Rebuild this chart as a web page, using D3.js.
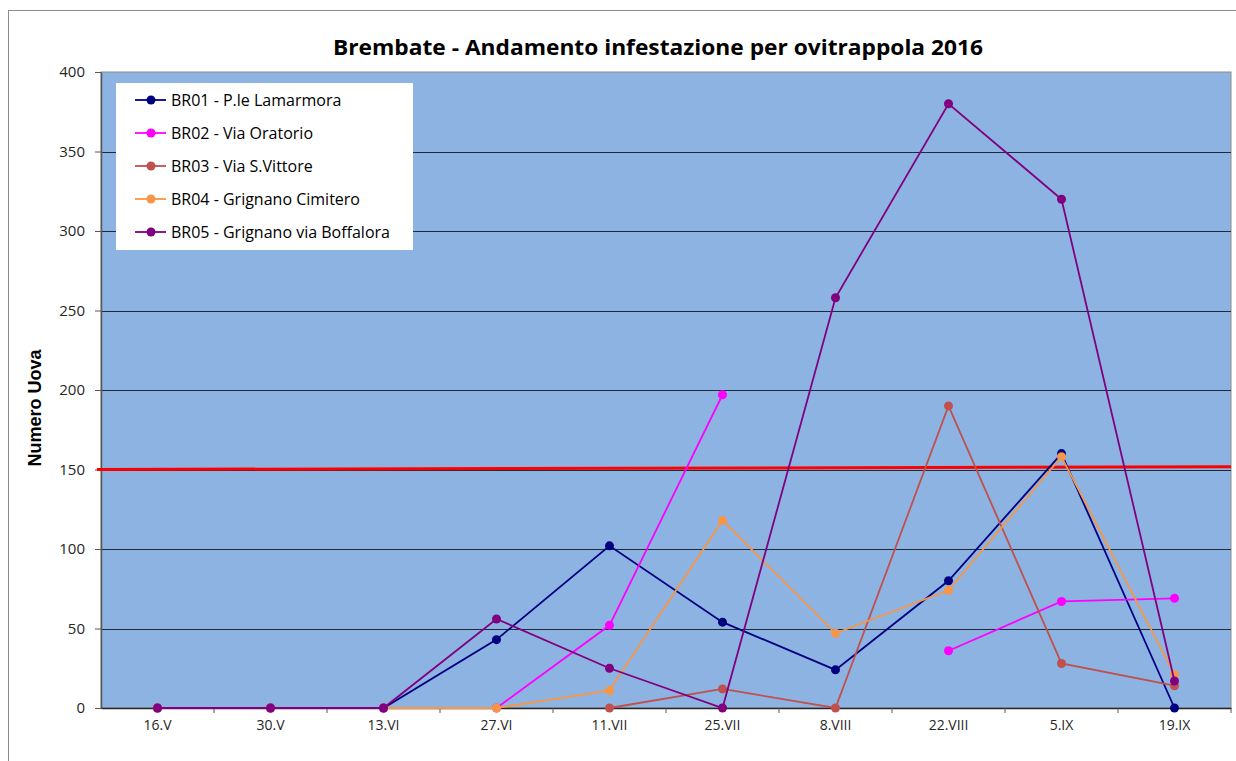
<!DOCTYPE html>
<html>
<head>
<meta charset="utf-8">
<script src="https://cdn.jsdelivr.net/npm/d3@7"></script>
<style>
  body { margin: 0; background: #fff; }
  svg { display: block; }
</style>
</head>
<body>
<svg id="chart" width="1236" height="761"></svg>
<script>
// dates of the ovitrap readings
const categories = ["16.V", "30.V", "13.VI", "27.VI", "11.VII", "25.VII", "8.VIII", "22.VIII", "5.IX", "19.IX"];

// eggs per trap (null = no reading)
const br01 = [0, 0, 0, 43, 102, 54, 24, 80, 160, 0];
const br02 = [0, 0, 0, 0, 52, 197, null, 36, 67, 69];
const br03 = [null, null, null, null, 0, 12, 0, 190, 28, 14];
const br04 = [0, 0, 0, 0, 11, 118, 47, 74, 158, 21];
const br05 = [0, 0, 0, 56, 25, 0, 258, 380, 320, 17];

const seriesNames = [
  "BR01 - P.le Lamarmora",
  "BR02 - Via Oratorio",
  "BR03 - Via S.Vittore",
  "BR04 - Grignano Cimitero",
  "BR05 - Grignano via Boffalora"
];
const seriesColors = ["#000080", "#ff00ff", "#c0504d", "#f79646", "#800080"];
const seriesValues = [br01, br02, br03, br04, br05];

const yTicks = [0, 50, 100, 150, 200, 250, 300, 350, 400];

// red threshold line, value at its left and right end
const thresholdEnds = [150, 151.7];

const svg = d3.select("#chart");
const plot = { left: 101, right: 1231, top: 72, bottom: 708 };

// outer chart frame
svg.append("rect")
  .attr("x", 8.5).attr("y", 10.5)
  .attr("width", 1240).attr("height", 760)
  .attr("fill", "#fff")
  .attr("stroke", "#8c8c8c")
  .attr("stroke-width", 1);

const x = d3.scaleBand()
  .domain(categories)
  .range([plot.left, plot.right]);

const y = d3.scaleLinear()
  .domain([0, 400])
  .range([plot.bottom, plot.top]);

// plot background
svg.append("rect")
  .attr("x", plot.left).attr("y", plot.top)
  .attr("width", plot.right - plot.left)
  .attr("height", plot.bottom - plot.top)
  .attr("fill", "#8db3e2")
  .attr("stroke", "#8c8c8c")
  .attr("stroke-width", 1);

// horizontal gridlines
svg.append("g")
  .selectAll("line")
  .data(yTicks.filter((d) => d > 0 && d < 400))
  .join("line")
  .attr("x1", plot.left).attr("x2", plot.right)
  .attr("y1", (d) => Math.round(y(d)) + 0.5)
  .attr("y2", (d) => Math.round(y(d)) + 0.5)
  .attr("stroke", "#1f2a36")
  .attr("stroke-width", 1);

// y axis
const yAxis = svg.append("g")
  .attr("transform", `translate(${plot.left},0)`)
  .call(d3.axisLeft(y).tickValues(yTicks).tickSize(6).tickSizeOuter(0));
yAxis.select(".domain").attr("stroke", "#595959").attr("stroke-width", 1.5);
yAxis.selectAll(".tick line").attr("stroke", "#595959");
yAxis.selectAll(".tick text")
  .attr("x", -16)
  .attr("fill", "#262626")
  .style("font-family", "'Open Sans', sans-serif")
  .style("font-size", "15px");

// x axis, ticks sit between categories
const xAxis = svg.append("g")
  .attr("transform", `translate(0,${plot.bottom})`)
  .call(d3.axisBottom(x).tickSize(0).tickSizeOuter(0));
xAxis.select(".domain").attr("stroke", "#262626").attr("stroke-width", 1.5);
xAxis.selectAll(".tick text")
  .attr("y", 12)
  .attr("fill", "#262626")
  .style("font-family", "'Open Sans', sans-serif")
  .style("font-size", "14px");

svg.append("g")
  .selectAll("line")
  .data(categories)
  .join("line")
  .attr("x1", (d) => x(d) + x.bandwidth())
  .attr("x2", (d) => x(d) + x.bandwidth())
  .attr("y1", plot.bottom)
  .attr("y2", plot.bottom + 5)
  .attr("stroke", "#595959");

// threshold
const tx = d3.scaleLinear().domain([0, 1]).range([plot.left - 4, plot.right]);
svg.append("line")
  .attr("x1", tx(0)).attr("x2", tx(1))
  .attr("y1", y(thresholdEnds[0])).attr("y2", y(thresholdEnds[1]))
  .attr("stroke", "#ff0000")
  .attr("stroke-width", 3);

// series lines and markers
const line = d3.line()
  .defined((d) => d != null)
  .x((d, i) => x(categories[i]) + x.bandwidth() / 2)
  .y((d) => y(d));

seriesValues.forEach((values, s) => {
  const g = svg.append("g");
  g.append("path")
    .datum(values)
    .attr("fill", "none")
    .attr("stroke", seriesColors[s])
    .attr("stroke-width", 1.8)
    .attr("d", line);
  g.selectAll("circle")
    .data(values.map((v, i) => ({ v, c: categories[i] })).filter((d) => d.v != null))
    .join("circle")
    .attr("cx", (d) => x(d.c) + x.bandwidth() / 2)
    .attr("cy", (d) => y(d.v))
    .attr("r", 4.5)
    .attr("fill", seriesColors[s]);
});

// legend
const legend = svg.append("g");
legend.append("rect")
  .attr("x", 116).attr("y", 83)
  .attr("width", 297).attr("height", 167)
  .attr("fill", "#fff");

const item = legend.selectAll("g.item")
  .data(seriesNames)
  .join("g")
  .attr("class", "item")
  .attr("transform", (d, i) => `translate(0,${100 + i * 33})`);
item.append("line")
  .attr("x1", 135).attr("x2", 166)
  .attr("stroke", (d, i) => seriesColors[i])
  .attr("stroke-width", 1.8);
item.append("circle")
  .attr("cx", 151).attr("r", 4.5)
  .attr("fill", (d, i) => seriesColors[i]);
item.append("text")
  .attr("x", 171).attr("dy", "0.36em")
  .attr("fill", "#000")
  .style("font-family", "'Open Sans', sans-serif")
  .style("font-size", "16px")
  .text((d) => d);

// title and axis label
svg.append("text")
  .attr("x", 658).attr("y", 55)
  .attr("text-anchor", "middle")
  .attr("textLength", 650)
  .attr("lengthAdjust", "spacingAndGlyphs")
  .style("font-family", "'Open Sans', sans-serif")
  .style("font-weight", "bold")
  .style("font-size", "22px")
  .text("Brembate - Andamento infestazione per ovitrappola 2016");

svg.append("text")
  .attr("transform", "translate(41,408) rotate(-90)")
  .attr("text-anchor", "middle")
  .style("font-family", "'Liberation Sans', Arial, sans-serif")
  .style("font-weight", "bold")
  .style("font-size", "18px")
  .text("Numero Uova");
</script>
</body>
</html>
